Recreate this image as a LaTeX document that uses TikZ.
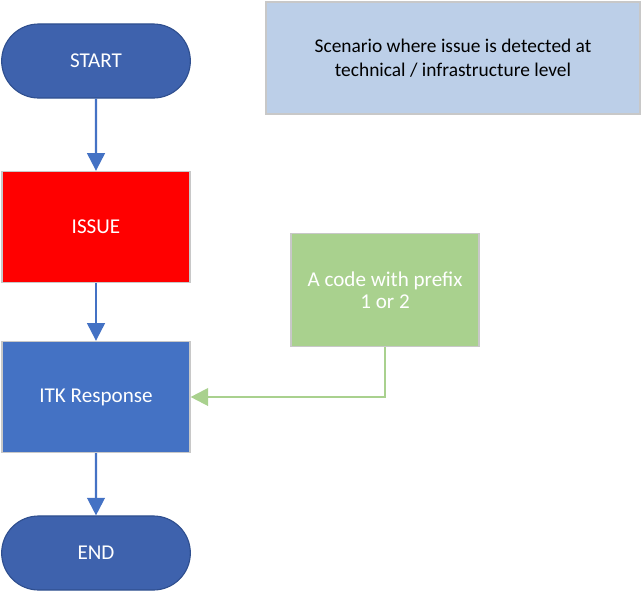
\documentclass[tikz,border=0pt]{standalone}
\usepackage{fontspec}
\setmainfont{Carlito}
\usetikzlibrary{shapes.misc, arrows.meta}

\definecolor{pillblue}{HTML}{3E62AD}
\definecolor{pilledge}{HTML}{2F4F8F}
\definecolor{boxblue}{HTML}{4472C4}
\definecolor{boxgreen}{HTML}{A9D18E}
\definecolor{notefill}{HTML}{BCCFE8}
\definecolor{edgegray}{HTML}{C8C8C8}

\tikzset{
  terminal/.style={rounded rectangle, fill=pillblue, draw=pilledge, line width=0.8pt,
    minimum width=4.95cm, minimum height=1.85cm, text=white, font=\fontsize{15}{16}\selectfont},
  stepbox/.style={rectangle, draw=edgegray, line width=0.8pt,
    minimum width=4.7cm, minimum height=2.78cm, text=white, font=\fontsize{15}{15.7}\selectfont},
  flow/.style={draw=boxblue, line width=1.6pt, -{Triangle[length=12.5pt, width=12.5pt]}},
  feed/.style={draw=boxgreen, line width=1.6pt, -{Triangle[length=12.5pt, width=12.5pt]}}
}

\begin{document}
\begin{tikzpicture}[x=0.025cm, y=-0.025cm]
  \useasboundingbox (0,0) rectangle (641,593);

  % Main flow
  \node[terminal] (start) at (96,61) {START};
  \node[stepbox, fill=red] (issue) at (96,227) {ISSUE};
  \node[stepbox, fill=boxblue] (itk) at (96,397) {ITK Response};
  \node[terminal] (end) at (96,553) {END};

  % Side boxes
  \node[stepbox, fill=boxgreen, minimum height=2.83cm, align=center] (code) at (385,290)
    {A code with prefix\\1 or 2};
  \node[rectangle, fill=notefill, draw=edgegray, line width=0.8pt, minimum width=9.35cm,
    minimum height=2.8cm, align=center, font=\fontsize{13.8}{17}\selectfont] (note) at (453,58)
    {Scenario where issue is detected at\\technical / infrastructure level};

  % Arrows
  \draw[flow] (start) -- (issue);
  \draw[flow] (issue) -- (itk);
  \draw[flow] (itk) -- (end);
  \draw[feed] (code.south) |- (itk.east);
\end{tikzpicture}
\end{document}
